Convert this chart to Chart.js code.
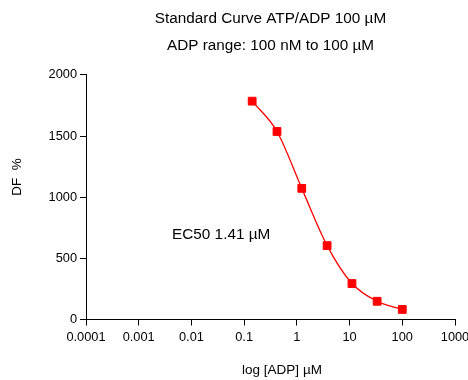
<!DOCTYPE html>
<html>
<head>
<meta charset="utf-8">
<script src="https://cdn.jsdelivr.net/npm/chart.js@4"></script>
<style>
  body { margin: 0; background: #fff; }
  #chart { display: block; }
</style>
</head>
<body>
<canvas id="chart" width="468" height="380"></canvas>
<script>
// ADP concentration (µM) and signal (DF %)
const adpConc = [0.142, 0.42, 1.24, 3.75, 11.1, 33.3, 100];
const dfValues = [1785, 1537, 1072, 604, 294, 149, 82];
const xTickValues = [0.0001, 0.001, 0.01, 0.1, 1, 10, 100, 1000];
const yTickValues = [0, 500, 1000, 1500, 2000];
const titleLines = ["Standard Curve ATP/ADP 100 µM", "ADP range: 100 nM to 100 µM"];
const xTitle = "log [ADP] µM";
const yTitle = "DF  %";
const ec50Text = "EC50 1.41 µM";

const FONT = "'Liberation Sans', Arial, sans-serif";

// axis titles + EC50 annotation
const textPlugin = {
  id: "textPlugin",
  afterDraw(chart) {
    const ctx = chart.ctx;
    const { x, y } = chart.scales;
    ctx.save();
    ctx.fillStyle = "#000";
    ctx.font = "13.5px " + FONT;
    ctx.textAlign = "center";
    ctx.textBaseline = "middle";
    ctx.fillText(xTitle, 282, 370);

    ctx.translate(17, 177);
    ctx.rotate(-Math.PI / 2);
    ctx.fillText(yTitle, 0, 0);
    ctx.restore();

    ctx.save();
    ctx.fillStyle = "#000";
    ctx.font = "15.3px " + FONT;
    ctx.textAlign = "left";
    ctx.textBaseline = "middle";
    ctx.fillText(ec50Text, x.getPixelForValue(0.0043), y.getPixelForValue(690));
    ctx.restore();
  }
};

new Chart(document.getElementById("chart"), {
  type: "line",
  data: {
    datasets: [{
      data: adpConc.map((c, i) => ({ x: c, y: dfValues[i] })),
      borderColor: "#ff0000",
      backgroundColor: "#ff0000",
      borderWidth: 1.3,
      pointStyle: "rect",
      pointRadius: 5.5,
      pointBorderWidth: 1,
      pointBorderColor: "#ff0000",
      pointBackgroundColor: "#ff0000",
      cubicInterpolationMode: "monotone",
      fill: false
    }]
  },
  options: {
    responsive: false,
    devicePixelRatio: 1,
    animation: false,
    layout: { padding: { left: 0, right: 13, top: 0, bottom: 0 } },
    plugins: {
      legend: { display: false },
      tooltip: { enabled: false },
      title: {
        display: true,
        text: titleLines,
        color: "#000",
        font: { family: FONT, size: 15.3, weight: "normal", lineHeight: 1.76 },
        padding: { top: 5.5, bottom: 15.5 },
        fullSize: false
      }
    },
    scales: {
      x: {
        type: "logarithmic",
        min: 0.0001,
        max: 1000,
        afterBuildTicks: s => { s.ticks = xTickValues.map(v => ({ value: v })); },
        afterFit: s => { s.height = 60.5; s.paddingLeft = 0; s.paddingRight = 0; },
        ticks: {
          color: "#000",
          font: { family: FONT, size: 12.8 },
          padding: 4,
          maxRotation: 0,
          autoSkip: false,
          callback: v => String(v)
        },
        grid: { drawOnChartArea: false, drawTicks: true, tickLength: 6, color: "#000" },
        border: { color: "#000", width: 1 }
      },
      y: {
        type: "linear",
        min: 0,
        max: 2000,
        afterBuildTicks: s => { s.ticks = yTickValues.map(v => ({ value: v })); },
        afterFit: s => { s.width = 86; s.paddingTop = 0; s.paddingBottom = 0; },
        ticks: {
          color: "#000",
          font: { family: FONT, size: 12.8 },
          padding: 3,
          callback: v => String(v)
        },
        grid: { drawOnChartArea: false, drawTicks: true, tickLength: 6, color: "#000" },
        border: { color: "#000", width: 1 }
      }
    }
  },
  plugins: [textPlugin]
});
</script>
</body>
</html>
